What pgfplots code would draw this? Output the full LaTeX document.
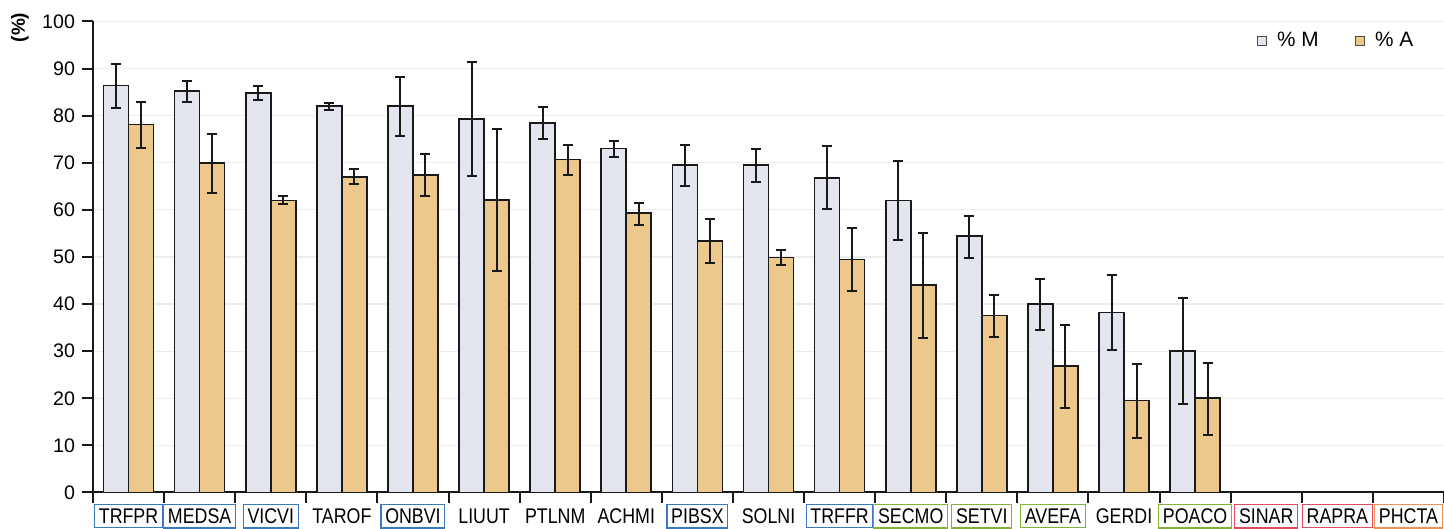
\documentclass[border=0pt]{standalone}
\usepackage{pgfplots}
\pgfplotsset{compat=1.18}
\usepackage{pgfplotstable}
\usepackage{fontspec}
\setmainfont{Liberation Sans}
\newfontfamily\condfont{Liberation Sans}[FakeStretch=0.84]
\definecolor{mcol}{RGB}{226,228,238}
\definecolor{acol}{RGB}{236,200,140}
\definecolor{lblue}{RGB}{60,120,190}
\definecolor{lgreen}{RGB}{135,175,60}
\definecolor{lred}{RGB}{225,75,95}
\definecolor{lorange}{RGB}{235,150,85}
\newcommand{\lb}[2]{{\setlength{\fboxsep}{1.8pt}\setlength{\fboxrule}{0.6pt}\fcolorbox{#1}{white}{\vphantom{A}#2}}}

\pgfplotstableread{
x y ep em
0 86.4 4.5 4.7
1 85.2 2.1 2.3
2 84.8 1.4 1.5
3 82.1 0.6 0.8
4 82.0 6.3 6.4
5 79.3 12.2 12.2
6 78.5 3.4 3.5
7 73.0 1.7 1.7
8 69.5 4.3 4.4
9 69.5 3.4 3.5
10 66.8 6.7 6.7
11 62.0 8.3 8.4
12 54.4 4.4 4.6
13 40.0 5.4 5.5
14 38.2 7.9 7.9
15 30.1 11.2 11.4
}\mdata

\pgfplotstableread{
x y ep em
0 78.1 4.9 5.0
1 69.9 6.2 6.4
2 62.0 0.9 0.7
3 67.0 1.6 1.6
4 67.4 4.5 4.5
5 62.1 15.0 15.0
6 70.7 3.1 3.2
7 59.3 2.1 2.5
8 53.4 4.6 4.6
9 49.9 1.5 1.6
10 49.5 6.7 6.8
11 44.0 11.1 11.3
12 37.6 4.4 4.6
13 26.9 8.7 8.9
14 19.5 7.8 7.9
15 20.0 7.6 7.7
}\adata

\begin{document}
\begin{tikzpicture}
\begin{axis}[
  name=ax,
  width=675.5pt, height=235.5pt, scale only axis,
  xmin=-0.5, xmax=18.5, ymin=0, ymax=100,
  axis x line=bottom, axis y line=left,
  axis line style={-, line width=1pt, black!90},
  ytick={0,10,...,100},
  tick align=outside,
  major tick length=5.5pt,
  minor tick length=5pt,
  ytick style={line width=1pt, black!90},
  xtick={0,...,18},
  major x tick style={draw=none},
  minor xtick={-0.5,0.5,...,18.5},
  minor x tick style={draw=black!90, line width=1pt},
  yticklabel style={font=\fontsize{9.8}{11}\selectfont},
  /pgf/number format/assume math mode=true,
  xticklabel style={font=\condfont\fontsize{10.6}{12}\selectfont, inner sep=0pt, anchor=north},
  xticklabels={\lb{lblue}{TRFPR},\lb{lblue}{MEDSA},\lb{lblue}{VICVI},\lb{white}{TAROF},\lb{lblue}{ONBVI},\lb{white}{LIUUT},\lb{white}{PTLNM},\lb{white}{ACHMI},\lb{lblue}{PIBSX},\lb{white}{SOLNI},\lb{lblue}{TRFFR},\lb{lgreen}{SECMO},\lb{lgreen}{SETVI},\lb{lgreen}{AVEFA},\lb{white}{GERDI},\lb{lgreen}{POACO},\lb{lred}{SINAR},\lb{lred}{RAPRA},\lb{lorange}{PHCTA}},
  ymajorgrids, major grid style={black!7, line width=0.6pt},
  ybar, bar width=12.5pt,
  legend style={at={(0.985,0.995)}, anchor=north east, draw=none, fill=none,
    font=\fontsize{10.4}{12}\selectfont, legend columns=2,
    /tikz/every odd column/.append style={column sep=3pt},
    /tikz/every even column/.append style={column sep=16pt}},
  legend image code/.code={\draw[#1, draw=black!70, line width=0.6pt] (0pt,-2.3pt) rectangle (4.6pt,2.3pt);},
  clip=false,
]
\addplot[bar shift=-6.25pt, fill=mcol, draw=black!90, line width=0.8pt,
  error bars/.cd, y dir=both, y explicit,
  error bar style={line width=1pt, black!90},
  error mark options={rotate=90, mark size=2.5pt, line width=1pt, black!90}]
  table[x=x, y=y, y error plus=ep, y error minus=em]{\mdata};
\addlegendentry{\% M}
\addplot[bar shift=6.25pt, fill=acol, draw=black!90, line width=0.8pt,
  error bars/.cd, y dir=both, y explicit,
  error bar style={line width=1pt, black!90},
  error mark options={rotate=90, mark size=2.5pt, line width=1pt, black!90}]
  table[x=x, y=y, y error plus=ep, y error minus=em]{\adata};
\addlegendentry{\% A}
\node[rotate=90, font=\bfseries\fontsize{9.5}{11}\selectfont] at ([xshift=-36.5pt, yshift=-3pt]rel axis cs:0,1) {(\%)};
\end{axis}
\pgfresetboundingbox
\path ([xshift=-46.5pt, yshift=-18.25pt]ax.south west) rectangle ([yshift=10.75pt]ax.north east);
\end{tikzpicture}
\end{document}
